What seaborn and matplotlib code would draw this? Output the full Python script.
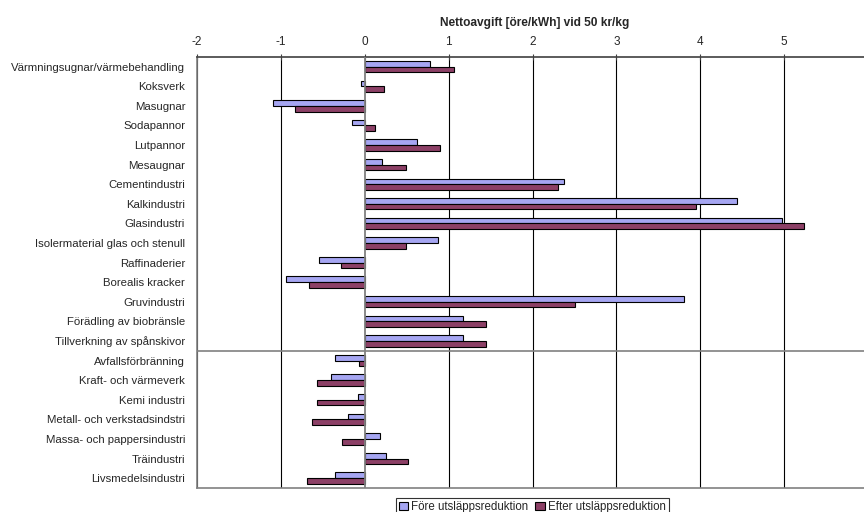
import matplotlib
matplotlib.use("Agg")
import matplotlib.pyplot as plt
import seaborn as sns
import pandas as pd

sns.set_theme(style="white")
plt.rcParams["font.family"] = ["Liberation Sans", "DejaVu Sans"]

categories = [
    "Värmningsugnar/värmebehandling", "Koksverk", "Masugnar", "Sodapannor",
    "Lutpannor", "Mesaugnar", "Cementindustri", "Kalkindustri", "Glasindustri",
    "Isolermaterial glas och stenull", "Raffinaderier", "Borealis kracker",
    "Gruvindustri", "Förädling av biobränsle", "Tillverkning av spånskivor",
    "Avfallsförbränning", "Kraft- och värmeverk", "Kemi industri",
    "Metall- och verkstadsindstri", "Massa- och pappersindustri",
    "Träindustri", "Livsmedelsindustri",
]
fore = [0.78, -0.05, -1.10, -0.15, 0.62, 0.21, 2.37, 4.44, 4.97, 0.87, -0.55,
        -0.94, 3.80, 1.17, 1.17, -0.35, -0.40, -0.08, -0.20, 0.18, 0.25, -0.35]
efter = [1.06, 0.23, -0.83, 0.12, 0.90, 0.49, 2.30, 3.95, 5.24, 0.49, -0.28,
         -0.66, 2.51, 1.45, 1.45, -0.07, -0.57, -0.57, -0.63, -0.27, 0.52, -0.69]
series = ["Före utsläppsreduktion", "Efter utsläppsreduktion"]
colors = ["#9999FF", "#993366"]
xticks = [-2, -1, 0, 1, 2, 3, 4, 5]

df = pd.DataFrame({
    "kategori": categories * 2,
    "värde": fore + efter,
    "serie": [series[0]] * len(categories) + [series[1]] * len(categories),
})

fig = plt.figure(figsize=(8.64, 5.12), dpi=100)
ax = fig.add_axes([0.228, 0.047, 0.772, 0.842])

sns.barplot(data=df, y="kategori", x="värde", hue="serie", hue_order=series,
            palette=colors, orient="h", width=0.58, edgecolor="black",
            linewidth=0.8, ax=ax, errorbar=None)

ax.set_xlim(-2, 5.95)
ax.set_ylim(len(categories) - 0.5, -0.5)

# vertical gridlines at each integer, zero line in grey
for xv in xticks:
    if xv == 0:
        continue
    ax.axvline(xv, color="black", lw=0.8, zorder=0)
ax.axvline(0, color="#808080", lw=1.3, zorder=3)
# separator between the two industry groups
ax.axhline(14.5, color="#808080", lw=1.2, zorder=3)

ax.xaxis.tick_top()
ax.xaxis.set_label_position("top")
ax.set_xticks(xticks)
ax.set_xticklabels([str(v) for v in xticks])
ax.tick_params(axis="x", direction="inout", length=5, width=0.8,
               color="#404040", labelsize=8.5, pad=4, top=True, bottom=False)
ax.tick_params(axis="y", length=0, labelsize=8.2, pad=8.5)
ax.set_xlabel("Nettoavgift [öre/kWh] vid 50 kr/kg", fontsize=8.6,
              fontweight="bold")
ax.xaxis.label.set_verticalalignment("bottom")
ax.xaxis.set_label_coords(0.506, 1.064)
ax.set_ylabel("")

for side in ["top", "left", "bottom"]:
    ax.spines[side].set_visible(True)
    ax.spines[side].set_color("#808080")
    ax.spines[side].set_linewidth(1.2)
ax.spines["top"].set_color("#404040")
ax.spines["right"].set_visible(False)

handles, labels = ax.get_legend_handles_labels()
ax.get_legend().remove()
leg = fig.legend(handles, labels, loc="lower center", bbox_to_anchor=(0.616, -0.012),
                 ncol=2, fontsize=8.3, frameon=True, fancybox=False,
                 handlelength=0.8, handleheight=0.8, handletextpad=0.3,
                 columnspacing=0.6, borderpad=0.25, borderaxespad=0.2)
leg.get_frame().set_edgecolor("black")
leg.get_frame().set_linewidth(0.8)

fig.savefig("out.png", dpi=100)
